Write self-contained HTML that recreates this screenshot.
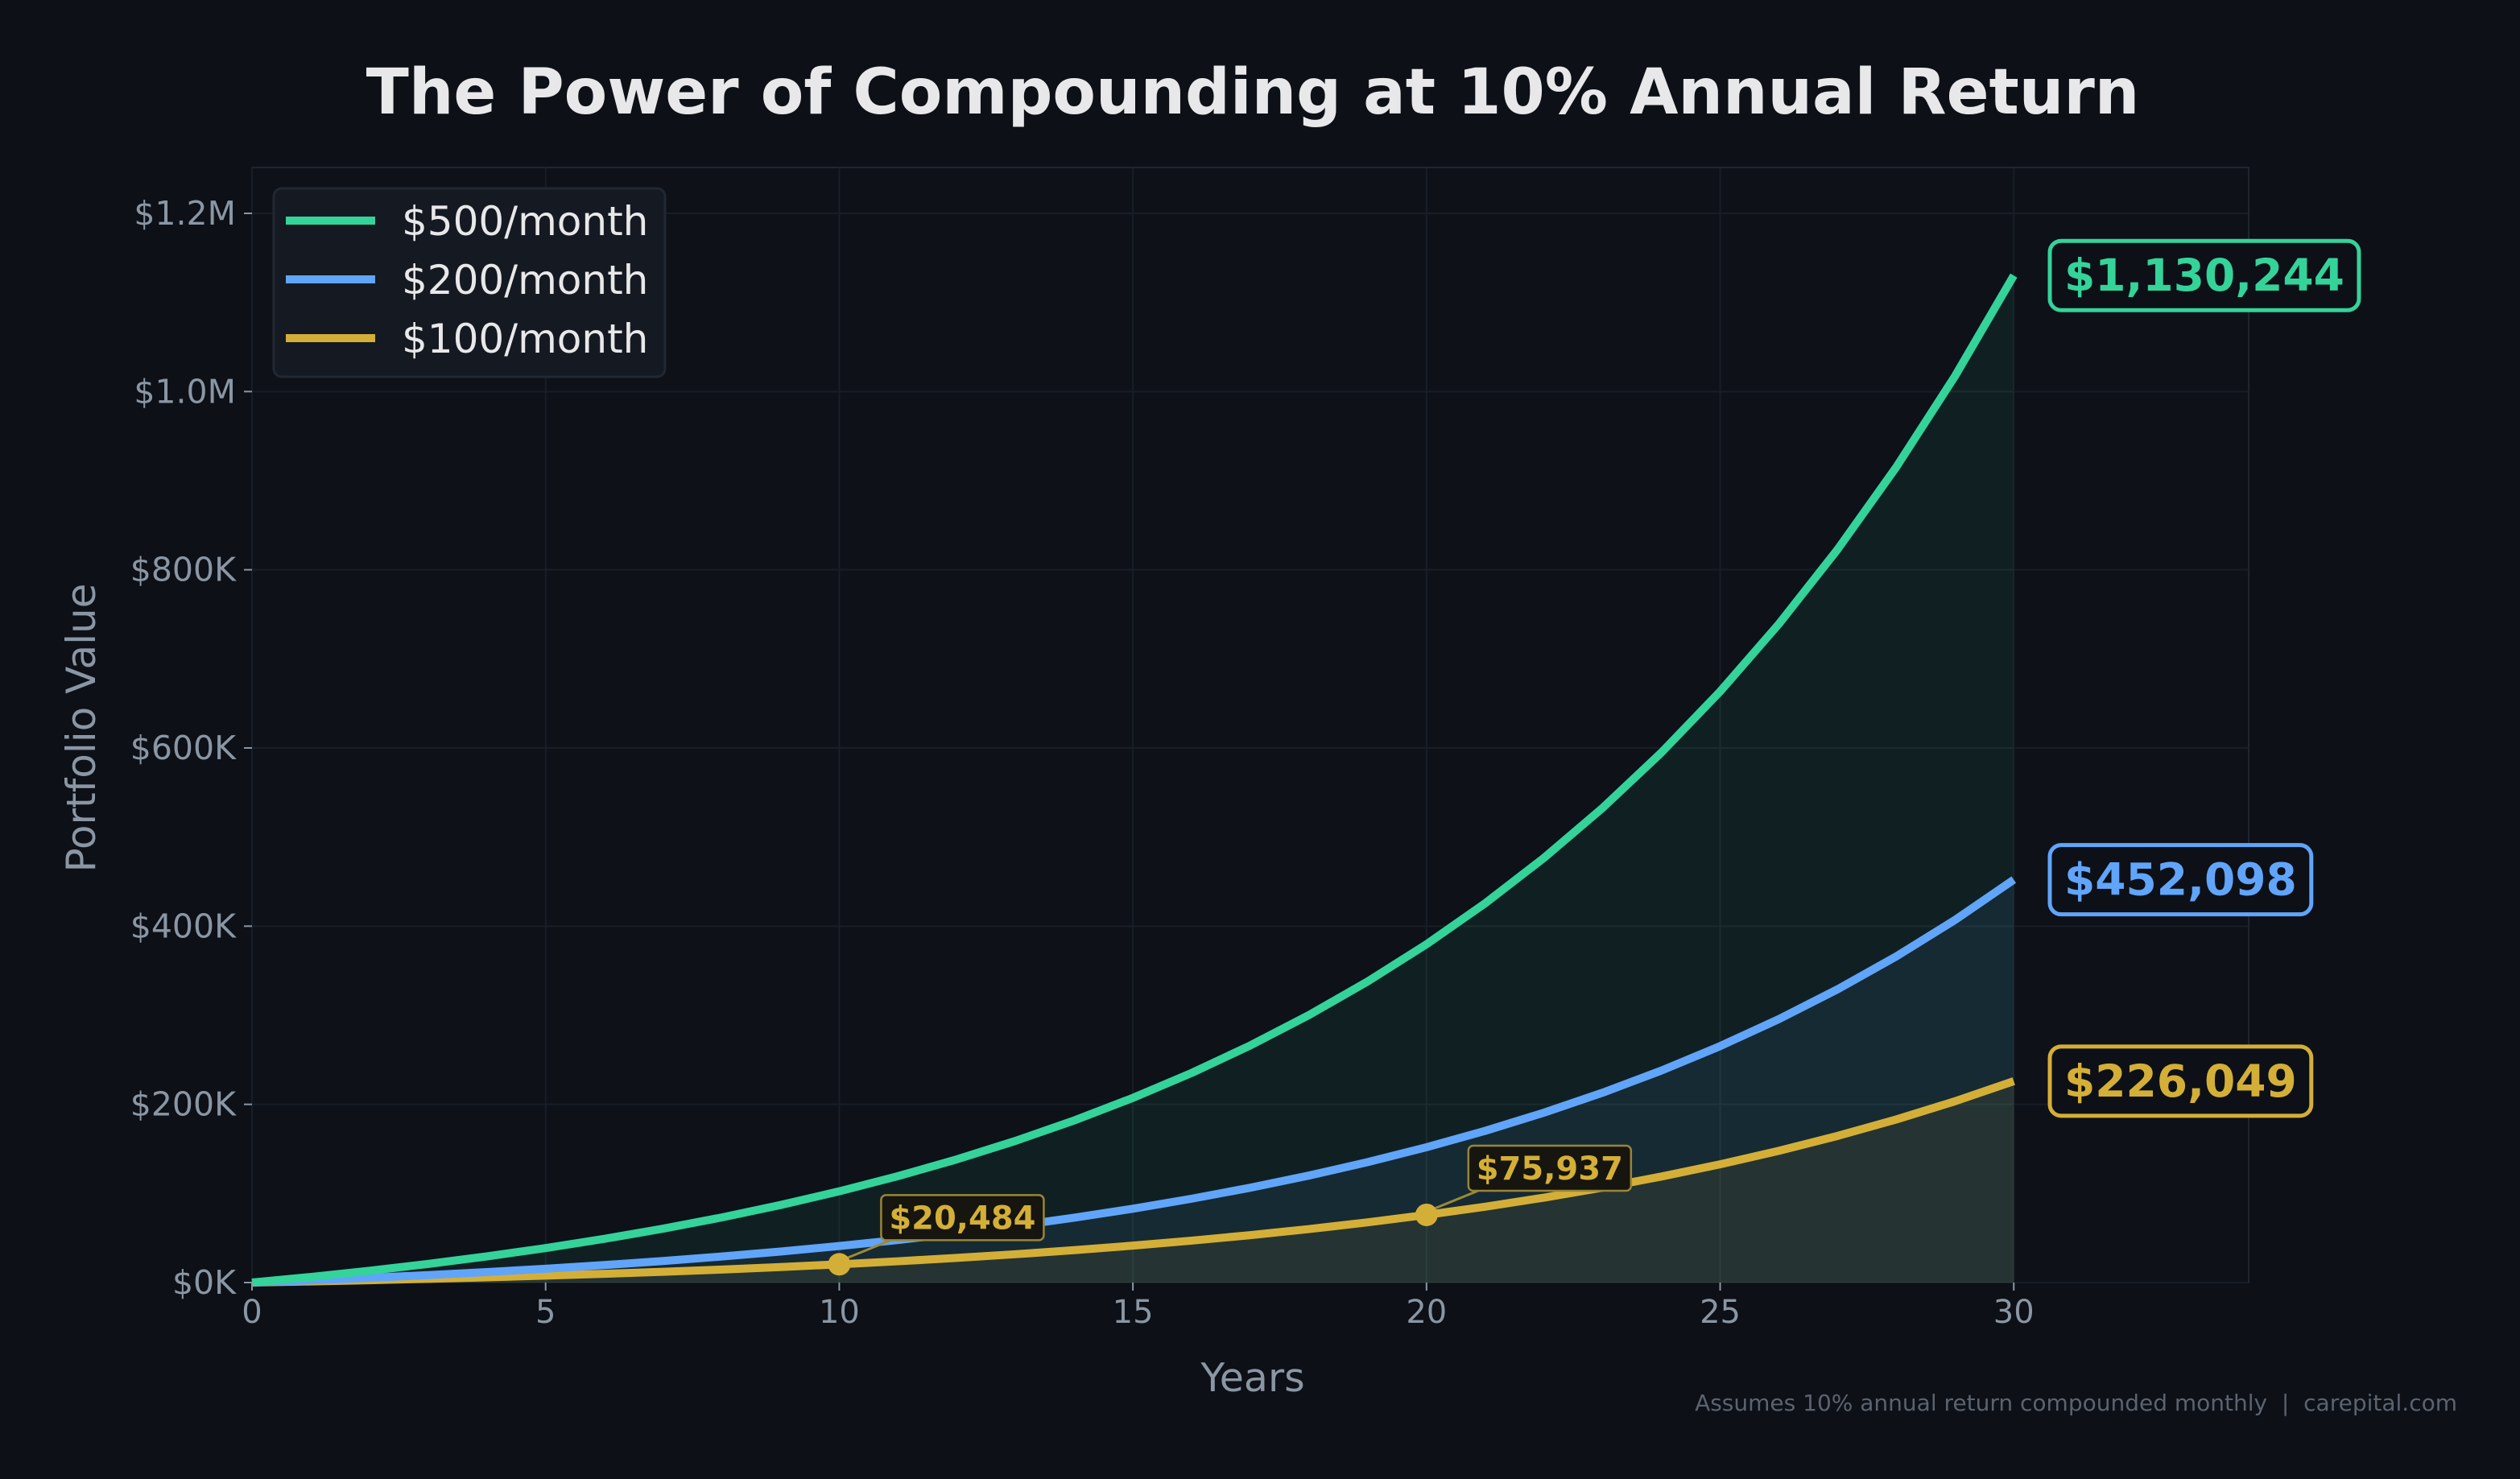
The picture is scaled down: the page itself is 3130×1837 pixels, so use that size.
<!DOCTYPE html>
<html><head><meta charset="utf-8">
<style>
html,body{margin:0;padding:0;background:#0d1017;}
svg{display:block;font-family:"DejaVu Sans","Liberation Sans",sans-serif;}
</style></head>
<body>
<svg id="chart" width="3130" height="1837" viewBox="0 0 3130 1837" xmlns="http://www.w3.org/2000/svg">
<rect x="0" y="0" width="3130" height="1837" fill="#0d1017"/>
<text x="1556" y="141" text-anchor="middle" font-size="78" font-weight="bold" fill="#e8e8ea">The Power of Compounding at 10% Annual Return</text>
<rect x="313" y="208" width="2480" height="1385" fill="#0e1118" stroke="#1f2631" stroke-width="2"/>
<g id="grid"></g>
<g id="fills"></g>
<g id="lines"></g>
<g id="axes"></g>
<g id="annos"></g>
<text x="1556" y="1728" text-anchor="middle" font-size="49" fill="#8a96a3">Years</text>
<text transform="translate(118,904) rotate(-90)" text-anchor="middle" font-size="50" fill="#8a96a3">Portfolio Value</text>
<text x="3052" y="1752" text-anchor="end" font-size="28" fill="#5b636f" style="white-space:pre" xml:space="preserve">Assumes 10% annual return compounded monthly  |  carepital.com</text>
<g>
<rect x="340" y="234" width="486" height="234" rx="10" fill="#151a22" stroke="#212833" stroke-width="3"/>
<line x1="355" y1="274" x2="466" y2="274" stroke="#34d399" stroke-width="10"/>
<text x="499" y="292" font-size="50" fill="#e8e8ea">$500/month</text>
<line x1="355" y1="347" x2="466" y2="347" stroke="#60a5fa" stroke-width="10"/>
<text x="499" y="365" font-size="50" fill="#e8e8ea">$200/month</text>
<line x1="355" y1="420" x2="466" y2="420" stroke="#d4af37" stroke-width="10"/>
<text x="499" y="438" font-size="50" fill="#e8e8ea">$100/month</text>
</g>
</svg>
<script>
const years = [0,1,2,3,4,5,6,7,8,9,10,11,12,13,14,15,16,17,18,19,20,21,22,23,24,25,26,27,28,29,30];
const series100 = [0,1257,2645,4178,5872,7744,9811,12095,14618,17405,20484,23886,27644,31795,36381,41447,47044,53226,60056,67602,75937,85145,95317,106555,118969,132683,147834,164570,183059,203484,226049];
const series200 = [0,2513,5289,8356,11744,15487,19622,24190,29236,34810,40968,47771,55288,63590,72762,82894,94088,106453,120112,135204,151874,170290,190634,213110,237938,265366,295668,329140,366118,406968,452098];
const series500 = [0,6283,13224,20891,29361,38718,49056,60474,73089,87024,102420,119429,138219,158976,181905,207236,235219,266132,300280,338010,379684,425726,476585,532775,594845,663415,739170,822850,915295,1017420,1130244];
const xTicks = [0,5,10,15,20,25,30];
const yTicks = [0,200000,400000,600000,800000,1000000,1200000];
const yTickLabels = ["$0K","$200K","$400K","$600K","$800K","$1.0M","$1.2M"];
const endLabels = ["$1,130,244","$452,098","$226,049"];
const annoYears = [10,20];
const annoLabels = ["$20,484","$75,937"];

const NS="http://www.w3.org/2000/svg";
const L=313,R=2793,T=208,B=1593,XMAX=34,YMAX=1251500;
const xs=v=>L+(v/XMAX)*(R-L);
const ys=v=>B-(v/YMAX)*(B-T);
function mk(tag,attrs,parent){const e=document.createElementNS(NS,tag);for(const k in attrs)e.setAttribute(k,attrs[k]);parent.appendChild(e);return e;}
const grid=document.getElementById('grid'),axes=document.getElementById('axes'),fills=document.getElementById('fills'),lines=document.getElementById('lines'),annos=document.getElementById('annos');

xTicks.forEach(t=>{
  const g=mk('line',{x1:xs(t),x2:xs(t),y1:T,y2:B,stroke:'#181e27','stroke-width':2},grid);
  
  
  const tk=mk('line',{x1:xs(t),x2:xs(t),y1:B,y2:B+10,stroke:'#8a96a3','stroke-width':2},axes);
  
  
  const tx=mk('text',{x:xs(t),y:B+50,'text-anchor':'middle','font-size':40,fill:'#8a96a3'},axes);
  tx.textContent=t;
  
  
});
yTicks.forEach((t,i)=>{
  const g=mk('line',{x1:L,x2:R,y1:ys(t),y2:ys(t),stroke:'#181e27','stroke-width':2},grid);
  
  
  const tk=mk('line',{x1:L-10,x2:L,y1:ys(t),y2:ys(t),stroke:'#8a96a3','stroke-width':2},axes);
  
  
  const tx=mk('text',{x:L-20,y:ys(t)+14,'text-anchor':'end','font-size':41,fill:'#8a96a3'},axes);
  tx.textContent=yTickLabels[i];
  
  
});

const defs=[[series500,'#34d399','line-500'],[series200,'#60a5fa','line-200'],[series100,'#d4af37','line-100']];
defs.forEach(([s,c,n])=>{
  let d='M'+xs(years[0])+','+ys(0);
  years.forEach((y,i)=>{d+=' L'+xs(y)+','+ys(s[i]);});
  d+=' L'+xs(years[years.length-1])+','+ys(0)+' Z';
  const p=mk('path',{d:d,fill:c,'fill-opacity':0.08},fills);
  
  
});
[...defs].reverse().forEach(([s,c,n])=>{
  const d='M'+years.map((y,i)=>xs(y)+','+ys(s[i])).join(' L');
  const p=mk('path',{d:d,fill:'none',stroke:c,'stroke-width':10,'stroke-linejoin':'round'},lines);
  
  
});
defs.forEach(([s,c,n],i)=>{
  const v=s[s.length-1],cy=ys(v);
  const r=mk('rect',{x:2546,y:cy-43,width:100,height:86,rx:14,fill:'#0d1017',stroke:c,'stroke-width':5},annos);
  
  
  const t=mk('text',{x:2564,y:cy+19,'font-size':55,'font-weight':'bold',fill:c},annos);
  t.textContent=endLabels[i];
  
  
  let w;
  try{w=t.getComputedTextLength();}catch(e){w=endLabels[i].length*34;}
  if(!w) w=endLabels[i].length*34;
  r.setAttribute('width',w+36);
});
annoYears.forEach((yr,i)=>{
  const v=series100[years.indexOf(yr)];
  const px=xs(yr),py=ys(v);
  const bx=px+52,by=py-86;
  const a=mk('line',{x1:bx+12,y1:by+56,x2:px+10,y2:py-8,stroke:'#9a8a3a','stroke-width':3},annos);
  
  
  const r=mk('rect',{x:bx,y:by,width:202,height:56,rx:6,fill:'#16150f',stroke:'#9a8537','stroke-width':2.5},annos);
  
  
  const t=mk('text',{x:bx+101,y:by+42,'text-anchor':'middle','font-size':40,'font-weight':'bold',fill:'#d4af37'},annos);
  t.textContent=annoLabels[i];
  
  
  const c=mk('circle',{cx:px,cy:py,r:14,fill:'#d4af37'},annos);
  
  
});
</script>
</body></html>
